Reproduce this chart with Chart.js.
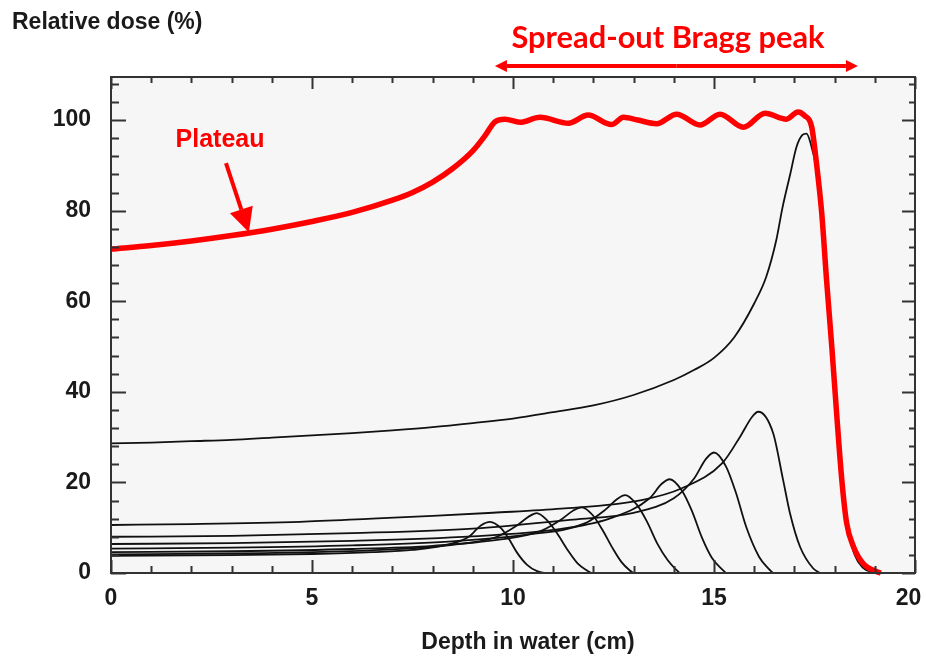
<!DOCTYPE html>
<html>
<head>
<meta charset="utf-8">
<script src="https://cdn.jsdelivr.net/npm/chart.js@4.4.1/dist/chart.umd.min.js"></script>
<style>
html,body{margin:0;padding:0;background:#fff;}
#wrap{width:926px;height:660px;}
</style>
</head>
<body>
<div id="wrap"><canvas id="braggChart" width="926" height="660"></canvas></div>
<script>
// depth (cm) / relative dose (%)

const xTicks = [0, 5, 10, 15, 20]
const yTicks = [0, 20, 40, 60, 80, 100]

// spread-out Bragg peak (red)
const sobpDepth = [0, 1, 2, 3, 4, 5, 6, 7, 7.5, 8, 8.5, 9, 9.3, 9.55, 9.8, 10.17, 10.67, 11.38, 11.87, 12.45, 12.75, 13.1, 13.57, 14.07, 14.65, 15.15, 15.73, 16.27, 16.8, 17.09, 17.25, 17.43, 17.55, 17.68, 17.8, 17.93, 18.05, 18.18, 18.3, 18.47, 18.71, 19.05, 19.15]
const sobpDose = [71.5, 72.3, 73.3, 74.5, 75.9, 77.6, 79.6, 82.3, 84.0, 86.3, 89.3, 93.2, 96.5, 99.6, 100.2, 99.5, 100.6, 99.3, 101.1, 99.0, 100.6, 100.0, 99.2, 101.3, 98.9, 101.3, 98.4, 101.5, 100.2, 101.8, 101.0, 98.5, 90.4, 79.4, 64.7, 50.0, 35.3, 20.5, 11.0, 5.8, 2.1, 0.3, 0]

// deepest pristine peak
const p8Depth = [0, 1, 2, 3, 4, 5, 6, 7, 8, 9, 10, 11, 12, 13, 14, 14.5, 15, 15.5, 16, 16.3, 16.55, 16.7, 16.9, 17.05, 17.2, 17.3, 17.4, 17.55, 17.7, 17.85, 18.0, 18.15, 18.3, 18.5, 18.7, 19.0]
const p8Dose = [28.6, 28.8, 29.1, 29.4, 29.9, 30.4, 30.9, 31.5, 32.2, 33.1, 34.1, 35.5, 37.0, 39.3, 42.6, 44.8, 47.5, 52.0, 59.5, 65.4, 73.5, 80.5, 88.2, 94.0, 96.7, 97.0, 95.0, 89.0, 77.0, 60.0, 42.0, 24.0, 11.0, 4.0, 1.2, 0]

// weighted shallower peaks
const p7Depth = [0, 2, 4.7, 6.5, 8, 9.5, 11.2, 13.2, 14.2, 15.2, 15.65, 15.95, 16.1, 16.47, 16.72, 16.89, 17.14, 17.47, 17.64]
const p7Dose = [10.6, 10.8, 11.3, 12.0, 12.6, 13.3, 14.2, 16.1, 18.7, 24.2, 30.1, 34.5, 35.6, 30.9, 20.5, 13.2, 5.8, 1.0, 0]

const p6Depth = [0, 3, 6, 9, 11.5, 13, 14, 14.5, 14.8, 15.0, 15.3, 15.55, 15.8, 16.12, 16.35, 16.47]
const p6Dose = [8.0, 8.2, 8.8, 9.8, 11.8, 13.3, 16.5, 20.8, 25.2, 26.6, 23.5, 17.6, 10.2, 3.6, 1.0, 0]

const p5Depth = [0, 3, 6, 9, 11, 12.4, 13.4, 13.7, 13.9, 14.2, 14.45, 14.7, 14.95, 15.2, 15.3]
const p5Dose = [6.4, 6.6, 7.1, 8.1, 9.5, 12.0, 16.5, 19.7, 20.7, 18.2, 13.7, 7.8, 3.3, 0.8, 0]

const p4Depth = [0, 3, 6, 8.5, 10.3, 11.8, 12.3, 12.6, 12.79, 13.07, 13.33, 13.59, 13.85, 14.05, 14.15]
const p4Dose = [5.4, 5.6, 6.1, 7.0, 8.4, 11.0, 14.0, 16.4, 17.2, 15.2, 11.4, 6.5, 2.8, 0.8, 0]

const p3Depth = [0, 3, 6, 8, 9.7, 10.7, 11.2, 11.5, 11.71, 11.98, 12.22, 12.47, 12.7, 12.9, 13.0]
const p3Dose = [4.6, 4.8, 5.3, 6.0, 7.4, 9.3, 11.8, 13.8, 14.5, 12.8, 9.6, 5.6, 2.4, 0.6, 0]

const p2Depth = [0, 3, 5.5, 7, 8.5, 9.6, 10.1, 10.4, 10.59, 10.85, 11.1, 11.35, 11.6, 11.85, 11.95]
const p2Dose = [4.1, 4.3, 4.7, 5.2, 6.2, 8.0, 10.5, 12.5, 13.2, 11.6, 8.7, 5.2, 2.2, 0.5, 0]

const p1Depth = [0, 3, 5, 6.5, 7.5, 8.4, 8.9, 9.2, 9.43, 9.7, 9.9, 10.1, 10.35, 10.6, 10.8]
const p1Dose = [3.8, 3.95, 4.2, 4.6, 5.1, 6.3, 8.0, 10.5, 11.3, 9.9, 7.5, 4.5, 1.8, 0.4, 0]

const FONT = "'Liberation Sans', Arial, sans-serif"
const RED = "#ff0000"
const INK = "#1a1a1a"

function pts(xs, ys){
    return xs.map((x, i) => ({x: x, y: ys[i]}))
}

function blackLine(xs, ys){
    return {
        data: pts(xs, ys),
        borderColor: "#111",
        borderWidth: 1.8,
        pointRadius: 0,
        cubicInterpolationMode: "monotone",
        clip: false
    }
}

function arrow(ctx, x1, y1, x2, y2, w, headLen, headW){
    const a = Math.atan2(y2 - y1, x2 - x1)
    const bx = x2 - Math.cos(a) * headLen
    const by = y2 - Math.sin(a) * headLen
    ctx.lineWidth = w
    ctx.beginPath()
    ctx.moveTo(x1, y1)
    ctx.lineTo(bx, by)
    ctx.stroke()
    ctx.beginPath()
    ctx.moveTo(x2, y2)
    ctx.lineTo(bx + Math.sin(a) * headW, by - Math.cos(a) * headW)
    ctx.lineTo(bx - Math.sin(a) * headW, by + Math.cos(a) * headW)
    ctx.closePath()
    ctx.fill()
}

// frame, inward ticks, notes
const decor = {
    id: "decor",
    beforeDraw(chart){
        const c = chart.ctx, a = chart.chartArea
        c.save()
        c.fillStyle = "#f6f6f6"
        c.fillRect(a.left, a.top, a.right - a.left, a.bottom - a.top)
        c.restore()
    },
    afterDatasetsDraw(chart){
        const c = chart.ctx, a = chart.chartArea
        const xs = chart.scales.x, ys = chart.scales.y
        c.save()
        c.strokeStyle = "#333"
        c.lineWidth = 2
        c.strokeRect(a.left, a.top, a.right - a.left, a.bottom - a.top)
        c.beginPath()
        for (let v = 0; v <= 108; v += 4){
            const y = Math.round(ys.getPixelForValue(v)) + 0.5
            const major = v % 20 === 0
            c.moveTo(a.left, y); c.lineTo(a.left + (major ? 15 : 8), y)
            c.moveTo(a.right, y); c.lineTo(a.right - (major ? 13 : 6), y)
        }
        for (let v = 0; v <= 20; v += 1){
            const x = Math.round(xs.getPixelForValue(v)) + 0.5
            const major = v % 5 === 0
            c.moveTo(x, a.bottom); c.lineTo(x, a.bottom - (major ? 13 : 7))
            c.moveTo(x, a.top); c.lineTo(x, a.top + (major ? 12 : 6))
        }
        c.stroke()
        c.restore()
    },
    afterDraw(chart){
        const c = chart.ctx
        const xs = chart.scales.x, ys = chart.scales.y
        c.save()
        c.fillStyle = INK
        c.textBaseline = "middle"
        c.font = "bold 23px " + FONT
        c.textAlign = "left"
        c.fillText("Relative dose (%)", 12, 23)
        c.textAlign = "center"
        c.fillText("Depth in water (cm)", 528, 643)

        // spread-out Bragg peak label and arrow
        c.fillStyle = RED
        c.strokeStyle = RED
        let size = 26
        c.font = "bold " + size + "px Lato, 'Open Sans', sans-serif"
        size = size * 313 / c.measureText("Spread-out Bragg peak").width
        c.font = "bold " + size.toFixed(1) + "px Lato, 'Open Sans', sans-serif"
        c.fillText("Spread-out Bragg peak", 668, 38)
        const ax1 = xs.getPixelForValue(9.55), ax2 = xs.getPixelForValue(18.58)
        arrow(c, (ax1 + ax2) / 2, 66, ax1, 66, 4, 12, 6)
        arrow(c, (ax1 + ax2) / 2, 66, ax2, 66, 4, 12, 6)

        // plateau label and arrow
        c.font = "bold 25px " + FONT
        c.fillText("Plateau", 220, 140)
        arrow(c, xs.getPixelForValue(2.86), ys.getPixelForValue(90.5),
            xs.getPixelForValue(3.43), ys.getPixelForValue(75.2), 4, 24, 12)
        c.restore()
    }
}

new Chart(
    document.getElementById("braggChart"),
    {
        type: "line",
        data: {
            datasets: [
                {
                    data: pts(sobpDepth, sobpDose),
                    borderColor: RED,
                    borderWidth: 5.5,
                    pointRadius: 0,
                    cubicInterpolationMode: "monotone",
                    clip: false
                },
                blackLine(p8Depth, p8Dose),
                blackLine(p7Depth, p7Dose),
                blackLine(p6Depth, p6Dose),
                blackLine(p5Depth, p5Dose),
                blackLine(p4Depth, p4Dose),
                blackLine(p3Depth, p3Dose),
                blackLine(p2Depth, p2Dose),
                blackLine(p1Depth, p1Dose)
            ]
        },
        options: {
            responsive: false,
            animation: false,
            devicePixelRatio: 1,
            layout: {padding: {top: 77, right: 11, left: 0, bottom: 0}},
            plugins: {legend: {display: false}, tooltip: {enabled: false}},
            scales: {
                x: {
                    type: "linear",
                    min: 0,
                    max: 20,
                    grid: {display: false, drawTicks: false},
                    border: {display: false},
                    afterBuildTicks: (s) => { s.ticks = xTicks.map(v => ({value: v})) },
                    afterFit: (s) => { s.height = 87; s.paddingLeft = 0; s.paddingRight = 0 },
                    ticks: {
                        padding: 12,
                        color: INK,
                        maxRotation: 0,
                        // last label sits a little left of its tick, as in the figure
                        callback: (v) => v === 20 ? "20  " : String(v),
                        font: {family: FONT, size: 23, weight: "bold"}
                    }
                },
                y: {
                    min: 0,
                    max: 109.5,
                    grid: {display: false, drawTicks: false},
                    border: {display: false},
                    afterBuildTicks: (s) => { s.ticks = yTicks.map(v => ({value: v})) },
                    afterFit: (s) => { s.width = 111; s.paddingTop = 0; s.paddingBottom = 0 },
                    ticks: {
                        padding: 20,
                        color: INK,
                        font: {family: FONT, size: 23, weight: "bold"}
                    }
                }
            }
        },
        plugins: [decor]
    }
)
</script>
</body>
</html>
